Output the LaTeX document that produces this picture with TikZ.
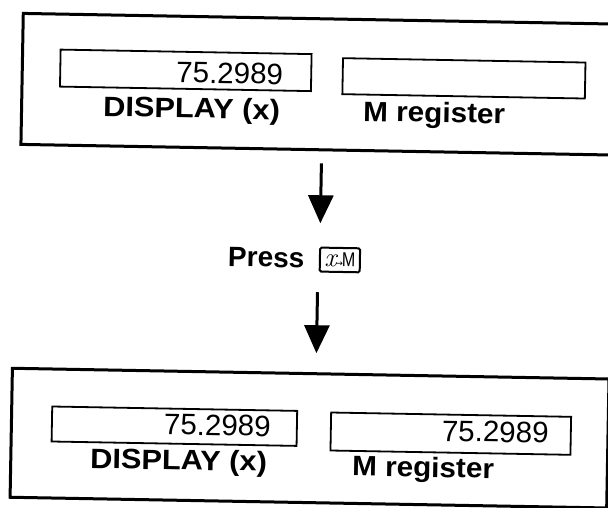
\documentclass[tikz,border=0pt]{standalone}
\usepackage{fontspec}
\usepackage{graphicx}
\newfontfamily\arial{Liberation Sans}
\newfontfamily\djv{DejaVu Sans}
\usetikzlibrary{arrows.meta}
\begin{document}
\begin{tikzpicture}[x=1pt,y=-1pt,
  frame/.style={draw, line width=3pt, inner sep=0pt},
  regbox/.style={draw, line width=1.8pt, inner sep=0pt},
  digits/.style={inner sep=0pt, anchor=base east, font=\arial\fontsize{29.5}{29.5}\selectfont},
  lab/.style={inner sep=0pt, anchor=base west, font=\arial\bfseries\fontsize{28}{28}\selectfont},
  flow/.style={line width=3pt, -{Triangle[length=28pt,width=25pt]}}]
\useasboundingbox[fill=white] (0,0) rectangle (608,508);
\begin{scope}[rotate around={-1.03:(304,254)}, transform shape]
  % top panel
  \node[frame, minimum width=622.5pt, minimum height=131pt, anchor=north west] (toppanel) at (17.5,17) {};
  \node[regbox, minimum width=251pt, minimum height=37pt] (topdisp) at (182.5,72.5) {};
  \node[regbox, minimum width=242.5pt, minimum height=36pt] (topmreg) at (460.75,75.5) {};
  \node[digits] (topdispval) at (280,84.8) {75.2989};
  \node[lab] (topdisplab) at (100.4,120) {\scalebox{1.1}[1]{DISPLAY (x)}};
  \node[lab] (topmlab) at (360.6,120) {\scalebox{1.06}[1]{M register}};
  % press
  \node[lab] (press) at (228,267.7) {Press};
  \node[draw, line width=2pt, minimum width=40pt, minimum height=24pt, inner sep=0pt, rounded corners=1.5pt] (key) at (340,259.3)
    {{\rmfamily\itshape\fontsize{27}{27}\selectfont x}\hspace{-1pt}{\djv\fontsize{9}{9}\selectfont →}\hspace{-1pt}{\arial\fontsize{20}{20}\selectfont\scalebox{0.8}[1]{M}}};
  % bottom panel
  \node[frame, minimum width=596.7pt, minimum height=129pt, anchor=north west] (botpanel) at (13,372) {};
  \node[regbox, minimum width=245pt, minimum height=35pt] (botdisp) at (177.5,428.5) {};
  \node[regbox, minimum width=240pt, minimum height=38pt] (botmreg) at (454,431) {};
  \node[digits] (botdispval) at (274,437) {75.2989};
  \node[digits] (botmval) at (552,438.5) {75.2989};
  \node[lab] (botdisplab) at (93.7,472) {\scalebox{1.1}[1]{DISPLAY (x)}};
  \node[lab] (botmlab) at (355.9,475) {\scalebox{1.06}[1]{M register}};
  % arrows
  \coordinate (a1s) at (319.8,163);
  \coordinate (a1e) at (319.8,223);
  \coordinate (a2s) at (318.2,292);
  \coordinate (a2e) at (318.2,353);
  \draw[flow] (a1s) -- (a1e);
  \draw[flow] (a2s) -- (a2e);
\end{scope}
\end{tikzpicture}
\end{document}
